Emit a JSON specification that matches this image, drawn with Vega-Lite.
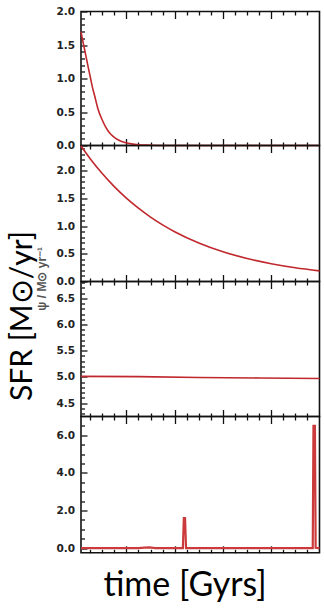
{
  "$schema": "https://vega.github.io/schema/vega-lite/v6.json",
  "autosize": {"type": "pad"},
  "padding": {"left": 6, "top": 5.5, "right": 0, "bottom": 0},
  "spacing": 0,
  "bounds": "flush",
  "datasets": {
    "exp_fast": [
      {"t": 0.12, "sfr": 1.70}, {"t": 0.2, "sfr": 1.55}, {"t": 0.3, "sfr": 1.38},
      {"t": 0.4, "sfr": 1.20}, {"t": 0.5, "sfr": 1.03}, {"t": 0.6, "sfr": 0.86},
      {"t": 0.7, "sfr": 0.72}, {"t": 0.82, "sfr": 0.55}, {"t": 1.0, "sfr": 0.38},
      {"t": 1.15, "sfr": 0.27}, {"t": 1.3, "sfr": 0.19}, {"t": 1.45, "sfr": 0.135},
      {"t": 1.65, "sfr": 0.085}, {"t": 1.9, "sfr": 0.048}, {"t": 2.2, "sfr": 0.024},
      {"t": 2.5, "sfr": 0.011}, {"t": 3.0, "sfr": 0.004}, {"t": 3.5, "sfr": 0.001},
      {"t": 4.0, "sfr": 0}, {"t": 6.0, "sfr": 0}, {"t": 8.0, "sfr": 0}, {"t": 10.0, "sfr": 0}
    ],
    "exp_slow": [
      {"t": 0.12, "sfr": 2.45}, {"t": 0.5, "sfr": 2.221}, {"t": 1.0, "sfr": 1.953},
      {"t": 1.5, "sfr": 1.717}, {"t": 2.0, "sfr": 1.509}, {"t": 2.5, "sfr": 1.327},
      {"t": 3.0, "sfr": 1.166}, {"t": 3.5, "sfr": 1.025}, {"t": 4.0, "sfr": 0.901},
      {"t": 5.0, "sfr": 0.697}, {"t": 6.0, "sfr": 0.538}, {"t": 7.0, "sfr": 0.416},
      {"t": 8.0, "sfr": 0.321}, {"t": 9.0, "sfr": 0.248}, {"t": 10.0, "sfr": 0.192}
    ],
    "constant": [
      {"t": 0.12, "sfr": 5.01}, {"t": 2.5, "sfr": 5.005}, {"t": 5.0, "sfr": 4.99},
      {"t": 7.5, "sfr": 4.98}, {"t": 10.0, "sfr": 4.97}
    ],
    "bursts": [
      {"t": 0.12, "sfr": 0.0}, {"t": 2.5, "sfr": 0.0}, {"t": 2.75, "sfr": 0.03},
      {"t": 2.95, "sfr": 0.04}, {"t": 3.2, "sfr": 0.0}, {"t": 4.34, "sfr": 0.0},
      {"t": 4.38, "sfr": 1.6}, {"t": 4.43, "sfr": 1.6}, {"t": 4.47, "sfr": 0.0},
      {"t": 9.72, "sfr": 0.0}, {"t": 9.75, "sfr": 6.5}, {"t": 9.81, "sfr": 6.5},
      {"t": 9.84, "sfr": 0.02}, {"t": 10.0, "sfr": 0.0}
    ]
  },
  "vconcat": [
    {
      "width": 238.5, "height": 134,
      "data": {"name": "exp_fast"},
      "resolve": {"axis": {"x": "independent", "y": "independent"}},
      "layer": [
        {
          "mark": {"type": "line", "color": "#c0282d", "strokeWidth": 1.6, "interpolate": "monotone"},
          "encoding": {
            "x": {"field": "t", "type": "quantitative", "scale": {"domain": [0.12, 10], "nice": false, "zero": false},
              "axis": {"orient": "bottom", "values": [0.5,1,1.5,2,2.5,3,3.5,4,4.5,5,5.5,6,6.5,7,7.5,8,8.5,9,9.5], "labels": false, "title": null,
                "tickSize": {"condition": {"test": "datum.value % 2 === 0", "value": -7}, "value": -3.5}}},
            "y": {"field": "sfr", "type": "quantitative", "scale": {"domain": [0, 2.0], "nice": false, "zero": false},
              "axis": {"values": [0,0.1,0.2,0.3,0.4,0.5,0.6,0.7,0.8,0.9,1,1.1,1.2,1.3,1.4,1.5,1.6,1.7,1.8,1.9,2],
                "labelExpr": "abs(datum.value*2-round(datum.value*2))<1e-6 ? format(datum.value,'.1f') : ''",
                "tickSize": {"condition": {"test": "abs(datum.value*2-round(datum.value*2))<1e-6", "value": -6}, "value": -3.5},
                "title": null}}
          }
        },
        {
          "mark": {"type": "line", "opacity": 0},
          "encoding": {
            "x": {"field": "t", "type": "quantitative",
              "axis": {"orient": "top", "values": [0.5,1,1.5,2,2.5,3,3.5,4,4.5,5,5.5,6,6.5,7,7.5,8,8.5,9,9.5], "labels": false, "title": null,
                "tickSize": {"condition": {"test": "datum.value % 2 === 0", "value": -7}, "value": -3.5}}},
            "y": {"field": "sfr", "type": "quantitative", "axis": null}
          }
        }
      ]
    },
    {
      "width": 238.5, "height": 136,
      "data": {"name": "exp_slow"},
      "resolve": {"axis": {"x": "independent", "y": "independent"}},
      "layer": [
        {
          "mark": {"type": "line", "color": "#c0282d", "strokeWidth": 1.6, "interpolate": "monotone"},
          "encoding": {
            "x": {"field": "t", "type": "quantitative", "scale": {"domain": [0.12, 10], "nice": false, "zero": false},
              "axis": {"orient": "bottom", "values": [0.5,1,1.5,2,2.5,3,3.5,4,4.5,5,5.5,6,6.5,7,7.5,8,8.5,9,9.5], "labels": false, "title": null,
                "tickSize": {"condition": {"test": "datum.value % 2 === 0", "value": -7}, "value": -3.5}}},
            "y": {"field": "sfr", "type": "quantitative", "scale": {"domain": [0, 2.46], "nice": false, "zero": false},
              "axis": {"values": [0,0.1,0.2,0.3,0.4,0.5,0.6,0.7,0.8,0.9,1,1.1,1.2,1.3,1.4,1.5,1.6,1.7,1.8,1.9,2,2.1,2.2,2.3,2.4],
                "labelExpr": "abs(datum.value*2-round(datum.value*2))<1e-6 ? format(datum.value,'.1f') : ''",
                "tickSize": {"condition": {"test": "abs(datum.value*2-round(datum.value*2))<1e-6", "value": -6}, "value": -3.5},
                "title": "ψ / M⊙ yr⁻¹", "titleFont": "Liberation Sans", "titleFontSize": 12, "titleFontWeight": "bold",
                "titleColor": "#555", "titleAngle": 270, "titleBaseline": "alphabetic", "titleAlign": "center",
                "titleX": -36, "titleY": 132.8}}
          }
        },
        {
          "mark": {"type": "line", "opacity": 0},
          "encoding": {
            "x": {"field": "t", "type": "quantitative",
              "axis": {"orient": "top", "values": [0.5,1,1.5,2,2.5,3,3.5,4,4.5,5,5.5,6,6.5,7,7.5,8,8.5,9,9.5], "labels": false, "title": null,
                "tickSize": {"condition": {"test": "datum.value % 2 === 0", "value": -7}, "value": -3.5}}},
            "y": {"field": "sfr", "type": "quantitative", "axis": null}
          }
        }
      ]
    },
    {
      "width": 238.5, "height": 135,
      "data": {"name": "constant"},
      "resolve": {"axis": {"x": "independent", "y": "independent"}},
      "layer": [
        {
          "mark": {"type": "line", "color": "#c0282d", "strokeWidth": 1.6},
          "encoding": {
            "x": {"field": "t", "type": "quantitative", "scale": {"domain": [0.12, 10], "nice": false, "zero": false},
              "axis": {"orient": "bottom", "values": [0.5,1,1.5,2,2.5,3,3.5,4,4.5,5,5.5,6,6.5,7,7.5,8,8.5,9,9.5], "labels": false, "title": null,
                "tickSize": {"condition": {"test": "datum.value % 2 === 0", "value": -7}, "value": -3.5}}},
            "y": {"field": "sfr", "type": "quantitative", "scale": {"domain": [4.245, 6.82], "nice": false, "zero": false},
              "axis": {"values": [4.3,4.4,4.5,4.6,4.7,4.8,4.9,5,5.1,5.2,5.3,5.4,5.5,5.6,5.7,5.8,5.9,6,6.1,6.2,6.3,6.4,6.5,6.6,6.7,6.8],
                "labelExpr": "abs(datum.value*2-round(datum.value*2))<1e-6 ? format(datum.value,'.1f') : ''",
                "tickSize": {"condition": {"test": "abs(datum.value*2-round(datum.value*2))<1e-6", "value": -6}, "value": -3.5},
                "title": "SFR [M⊙/yr]", "titleFont": "Lato", "titleFontSize": 30, "titleFontWeight": "normal",
                "titleColor": "#000", "titleAngle": 270, "titleBaseline": "alphabetic", "titleAlign": "center",
                "titleX": -50, "titleY": 34}}
          }
        },
        {
          "mark": {"type": "line", "opacity": 0},
          "encoding": {
            "x": {"field": "t", "type": "quantitative",
              "axis": {"orient": "top", "values": [0.5,1,1.5,2,2.5,3,3.5,4,4.5,5,5.5,6,6.5,7,7.5,8,8.5,9,9.5], "labels": false, "title": null,
                "tickSize": {"condition": {"test": "datum.value % 2 === 0", "value": -7}, "value": -3.5}}},
            "y": {"field": "sfr", "type": "quantitative", "axis": null}
          }
        }
      ]
    },
    {
      "width": 238.5, "height": 136.3,
      "data": {"name": "bursts"},
      "resolve": {"axis": {"x": "independent", "y": "independent"}},
      "layer": [
        {
          "mark": {"type": "line", "color": "#cc3b3b", "strokeWidth": 2.2},
          "encoding": {
            "x": {"field": "t", "type": "quantitative", "scale": {"domain": [0.12, 10], "nice": false, "zero": false},
              "axis": {"orient": "bottom", "values": [0.5,1,1.5,2,2.5,3,3.5,4,4.5,5,5.5,6,6.5,7,7.5,8,8.5,9,9.5], "labels": false,
                "tickSize": {"condition": {"test": "datum.value % 2 === 0", "value": -7}, "value": -3.5},
                "title": "time [Gyrs]", "titleFont": "Lato", "titleFontSize": 34, "titleFontWeight": "normal",
                "titleColor": "#000", "titleBaseline": "alphabetic", "titleAlign": "center",
                "titleX": 103.5, "titleY": 43}},
            "y": {"field": "sfr", "type": "quantitative", "scale": {"domain": [-0.25, 7.0], "nice": false, "zero": false},
              "axis": {"values": [0,0.5,1,1.5,2,2.5,3,3.5,4,4.5,5,5.5,6,6.5],
                "labelExpr": "datum.value % 2 === 0 ? format(datum.value,'.1f') : ''",
                "tickSize": {"condition": {"test": "datum.value % 2 === 0", "value": -6}, "value": -3.5},
                "title": null}}
          }
        },
        {
          "mark": {"type": "line", "opacity": 0},
          "encoding": {
            "x": {"field": "t", "type": "quantitative",
              "axis": {"orient": "top", "values": [0.5,1,1.5,2,2.5,3,3.5,4,4.5,5,5.5,6,6.5,7,7.5,8,8.5,9,9.5], "labels": false, "title": null,
                "tickSize": {"condition": {"test": "datum.value % 2 === 0", "value": -7}, "value": -3.5}}},
            "y": {"field": "sfr", "type": "quantitative", "axis": null}
          }
        }
      ]
    }
  ],
  "config": {
    "view": {"stroke": "#111", "strokeWidth": 1.6},
    "axis": {
      "domain": false, "grid": false,
      "tickColor": "#111", "tickWidth": 1.3,
      "labelFont": "DejaVu Sans", "labelFontWeight": "bold", "labelFontSize": 10.5, "labelColor": "#222",
      "labelPadding": 12.5, "labelOverlap": false
    }
  }
}
